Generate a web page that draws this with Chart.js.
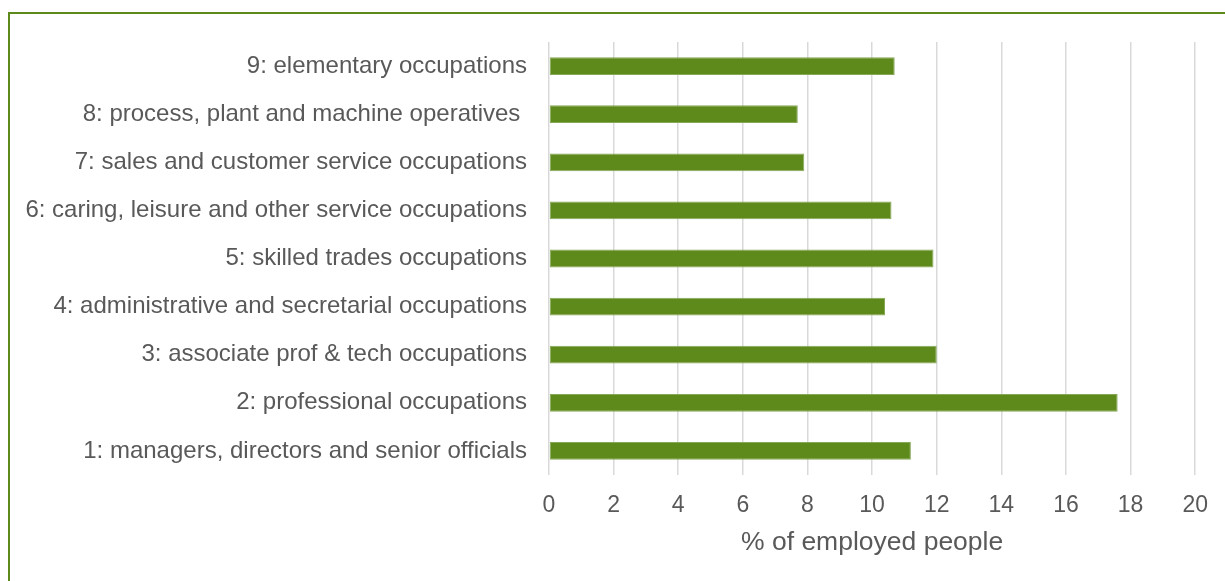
<!DOCTYPE html>
<html>
<head>
<meta charset="utf-8">
<script src="https://cdn.jsdelivr.net/npm/chart.js@4"></script>
<style>
  html, body { margin: 0; padding: 0; background: #fff; }
  #wrap { position: relative; width: 1225px; height: 581px; overflow: hidden; }
  #frame { position: absolute; left: 8px; top: 12px; width: 1240px; height: 600px; border: 2px solid #5e8a1c; }
  canvas { position: absolute; left: 0; top: 0; }
</style>
</head>
<body>
<div id="wrap">
  <div id="frame"></div>
  <canvas id="chart" width="1225" height="581"></canvas>
</div>
<script>
// occupations, top to bottom as shown
var occupations = [
  "9: elementary occupations",
  "8: process, plant and machine operatives ",
  "7: sales and customer service occupations",
  "6: caring, leisure and other service occupations",
  "5: skilled trades occupations",
  "4: administrative and secretarial occupations",
  "3: associate prof & tech occupations",
  "2: professional occupations",
  "1: managers, directors and senior officials"
];
var employedPct = [10.7, 7.7, 7.9, 10.6, 11.9, 10.4, 12.0, 17.6, 11.2];
var xTicks = [0, 2, 4, 6, 8, 10, 12, 14, 16, 18, 20];
var axisTitle = "% of employed people";

var fontFamily = "'Liberation Sans', Arial, sans-serif";

var ctx = document.getElementById("chart").getContext("2d");
var chart = new Chart(ctx, {
  type: "bar",
  data: {
    labels: occupations,
    datasets: [{
      data: employedPct,
      backgroundColor: "#5e8a1c",
      borderColor: "#86a958",
      borderWidth: 1,
      borderSkipped: false,
      categoryPercentage: 1.0,
      barPercentage: 0.37
    }]
  },
  options: {
    indexAxis: "y",
    responsive: false,
    animation: false,
    layout: { padding: { top: 42, right: 29, bottom: 22, left: 0 } },
    plugins: { legend: { display: false }, tooltip: { enabled: false } },
    scales: {
      x: {
        min: 0,
        max: 20,
        afterBuildTicks: function(scale) {
          scale.ticks = xTicks.map(function(v) { return { value: v }; });
        },
        afterFit: function(scale) { scale.height = 84; },
        grid: { color: "#d9d9d9", lineWidth: 1.5, drawTicks: false },
        border: { display: false },
        ticks: {
          color: "#595959",
          padding: 17,
          font: { family: fontFamily, size: 23 }
        },
        title: {
          display: true,
          text: axisTitle,
          color: "#595959",
          padding: { top: 4, bottom: 0 },
          font: { family: fontFamily, size: 26.5 }
        }
      },
      y: {
        afterFit: function(scale) { scale.width = 549; },
        grid: { display: false },
        border: { display: false },
        ticks: {
          color: "#595959",
          padding: 14,
          font: { family: fontFamily, size: 24 }
        }
      }
    }
  }
});
</script>
</body>
</html>
